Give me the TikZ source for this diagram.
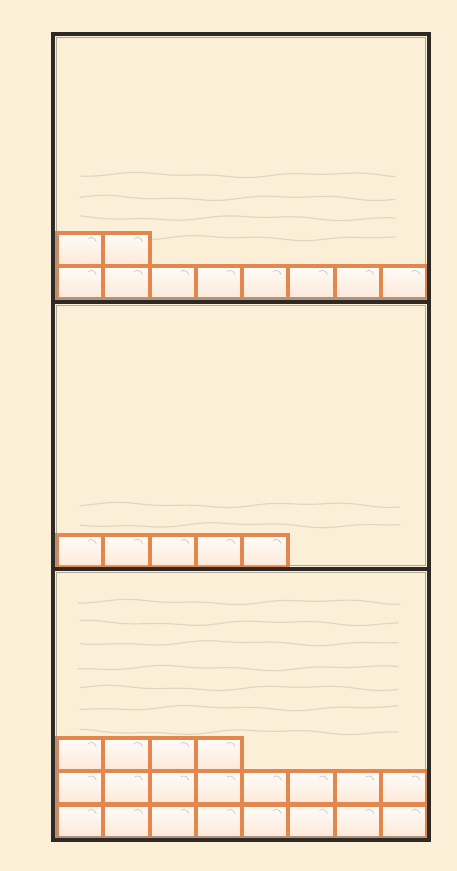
\documentclass[tikz,border=0pt]{standalone}
\usepackage{xcolor}
\usepackage{tikz}
\usetikzlibrary{positioning}
\definecolor{paper}{HTML}{FCEFD8}
\definecolor{frame}{HTML}{2E2925}
\definecolor{frameedge}{HTML}{9A9282}
\definecolor{brick}{HTML}{E4874F}
\definecolor{tilehi}{HTML}{FFFCF8}
\definecolor{tilelo}{HTML}{FCE9DA}
\definecolor{wave}{HTML}{E0D6C6}
\definecolor{scrib}{HTML}{BFC3CE}
\tikzset{
  panelbox/.style={draw=frame,line width=4.5pt},
  paneledge/.style={draw=frameedge,line width=1.5pt,opacity=.75},
  waveline/.style={draw=wave,line width=1.2pt,line cap=round},
  tile/.style={draw=brick,line width=4pt,top color=tilehi,bottom color=tilelo,
    minimum width=46.25pt,minimum height=33pt,outer sep=0pt,inner sep=0pt,
    path picture={\draw[scrib,line width=.6pt,line cap=round]
      ([xshift=-15pt,yshift=-6pt]path picture bounding box.north east)
      .. controls +(2pt,2pt) and +(-2pt,1pt) .. +(6pt,0pt) -- +(8pt,-3pt);}}
}
\begin{document}
\begin{tikzpicture}[x=1pt,y=-1pt]
  \useasboundingbox (0,0) rectangle (457,871);
  \fill[paper] (0,0) rectangle (457,871);
  % faint handwriting lines
  \foreach \yy/\ph/\xa/\xb in {175/0/80/395, 198/70/80/395, 218/150/80/395, 238/230/80/395,
      505/40/80/400, 525/190/80/400,
      602/20/78/400, 623/110/80/398, 643/200/80/398, 668/300/78/398,
      688/60/80/398, 708/250/80/398, 732/130/80/398}
    \draw[waveline] plot[smooth,domain=\xa:\xb,samples=50]
      (\x,{\yy+1.7*sin(1.9*\x+\ph)+1.0*sin(4.7*\x+2*\ph)});
  % panel 1 tiles
  \foreach \c in {0,...,7}
    \node[tile] (ta\c) at ({80.125+46.25*\c},282) {};
  \foreach \c in {0,1}
    \node[tile] (tb\c) at ({80.125+46.25*\c},249) {};
  % panel 2 tiles
  \foreach \c in {0,...,4}
    \node[tile] (tc\c) at ({80.125+46.25*\c},551) {};
  % panel 3 tiles
  \foreach \c in {0,...,7}
    \node[tile] (td\c) at ({80.125+46.25*\c},821) {};
  \foreach \c in {0,...,7}
    \node[tile] (te\c) at ({80.125+46.25*\c},787.5) {};
  \foreach \c in {0,...,3}
    \node[tile] (tf\c) at ({80.125+46.25*\c},754) {};
  % frames
  \foreach \ya/\yb in {34/302, 302/569, 569/840}
    \draw[paneledge] (56.5,\ya+3.5) rectangle (425.5,\yb-3.5);
  \draw[panelbox] (53,34) rectangle (429,840);
  \draw[panelbox] (53,302) -- (429,302);
  \draw[panelbox] (53,569) -- (429,569);
\end{tikzpicture}
\end{document}
